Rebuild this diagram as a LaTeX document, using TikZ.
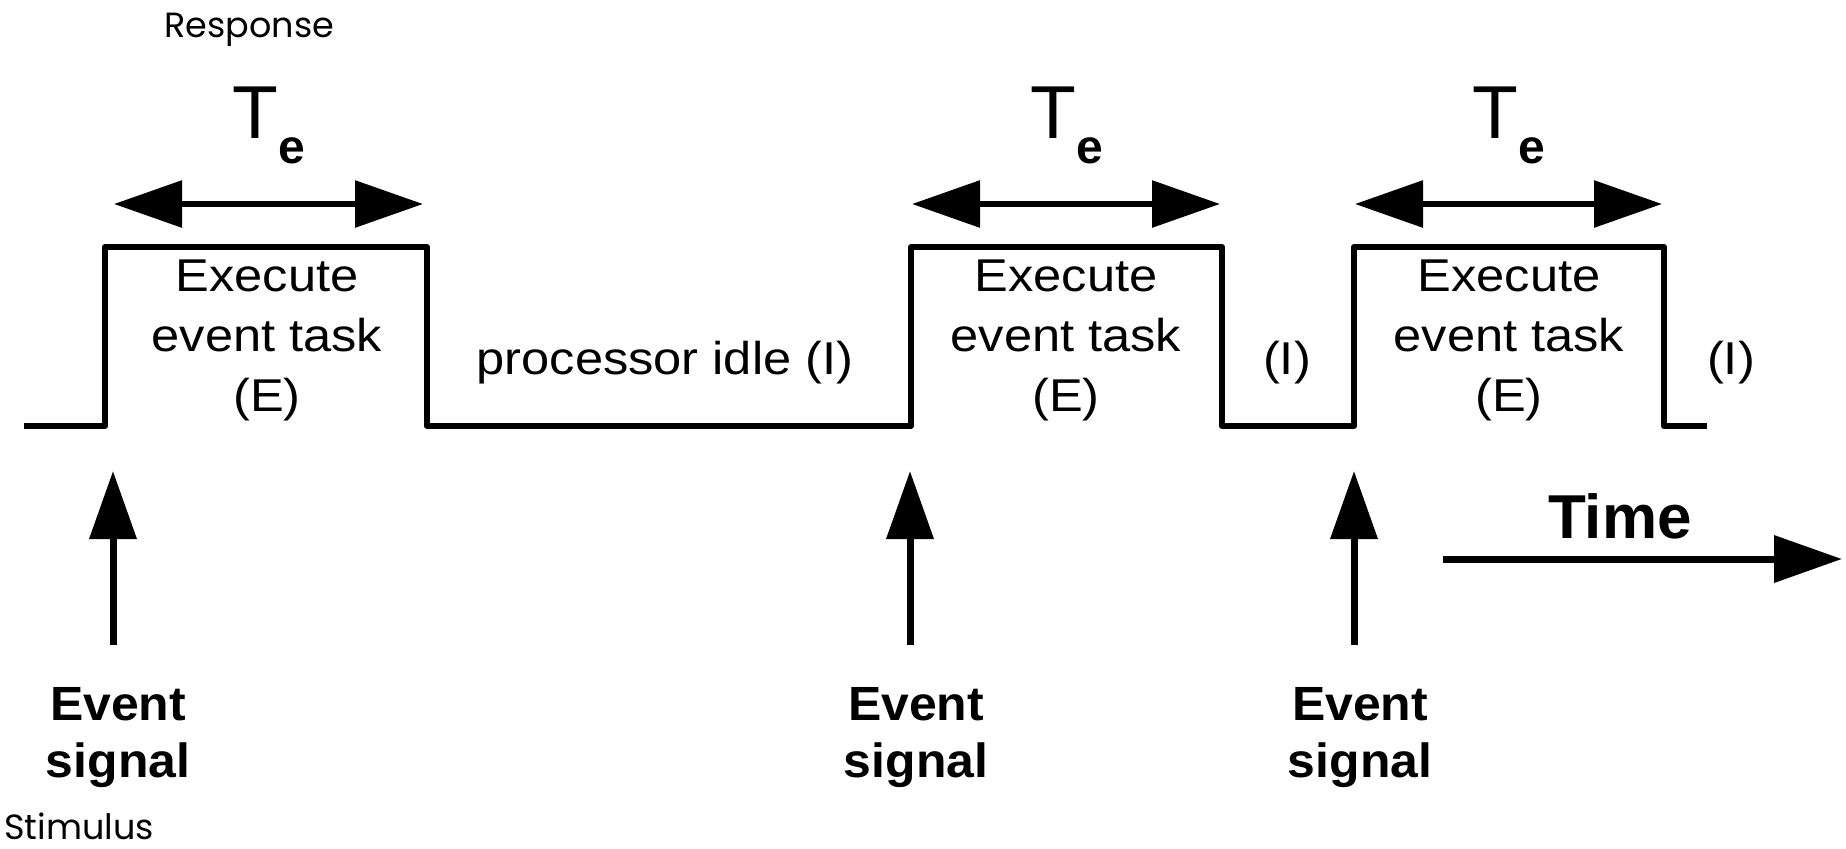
\documentclass[tikz,border=0pt]{standalone}
\usepackage{fontspec}
\setmainfont{Liberation Sans}
\newfontfamily\widesans[FakeStretch=1.1]{Liberation Sans}
\newfontfamily\boldsans[FakeStretch=1.04]{Liberation Sans}
\newfontfamily\geofont{Poppins}
\usetikzlibrary{arrows.meta}

% one unit = one pixel of a 1846 x 848 canvas, y pointing down
\tikzset{
  wave/.style={line width=3pt, line join=round},
  durarrow/.style={line width=3pt,
    {Triangle[length=34pt,width=23pt]}-{Triangle[length=34pt,width=23pt]}},
  sigarrow/.style={line width=3.5pt, -{Triangle[length=34pt,width=23pt]}},
  tasktext/.style={align=center, inner sep=0pt, font=\widesans\fontsize{23}{30}\selectfont},
  idletext/.style={inner sep=0pt, anchor=base, font=\widesans\fontsize{23}{30}\selectfont},
  evtext/.style={align=center, inner sep=0pt, font=\boldsans\fontsize{24}{28.5}\selectfont\bfseries},
  sidenote/.style={inner sep=0pt, anchor=base west, font=\geofont\fontsize{17.5}{21}\selectfont},
  tetext/.style={inner sep=0pt, anchor=base west, font=\fontsize{37.5}{42}\selectfont},
}
\newcommand{\Tsub}{T\raisebox{-12.5pt}{\fontsize{24}{24}\selectfont\bfseries e}}

\begin{document}
\begin{tikzpicture}[x=0.5pt, y=-0.5pt]
\useasboundingbox (0,0) rectangle (1846,848);

% processor activity over time
\draw[wave] (24,426) -- (105,426) -- (105,247) -- (427,247) -- (427,426)
  -- (911,426) -- (911,247) -- (1222,247) -- (1222,426)
  -- (1354,426) -- (1354,247) -- (1664,247) -- (1664,426) -- (1707,426);

% execution time spans
\coordinate (d1l) at (114,204);  \coordinate (d1r) at (423,204);
\coordinate (d2l) at (912,204);  \coordinate (d2r) at (1220,204);
\coordinate (d3l) at (1355,204); \coordinate (d3r) at (1662,204);
\draw[durarrow] (d1l) -- (d1r);
\draw[durarrow] (d2l) -- (d2r);
\draw[durarrow] (d3l) -- (d3r);

\node[tetext] (te1) at (232,138) {\Tsub};
\node[tetext] (te2) at (1030,138) {\Tsub};
\node[tetext] (te3) at (1472,138) {\Tsub};

% task and idle labels
\node[tasktext] (ex1) at (267,340) {Execute\\event task\\(E)};
\node[tasktext] (ex2) at (1066,340) {Execute\\event task\\(E)};
\node[tasktext] (ex3) at (1509,340) {Execute\\event task\\(E)};
\node[idletext] (idle) at (665,374) {processor idle (I)};
\node[idletext] (i2) at (1287,374) {(I)};
\node[idletext] (i3) at (1731,374) {(I)};

% event signals
\node[evtext] (ev1) at (118,738) {Event\\signal};
\node[evtext] (ev2) at (916,738) {Event\\signal};
\node[evtext] (ev3) at (1360,738) {Event\\signal};
\coordinate (s1b) at (113,645);  \coordinate (s1t) at (113,471);
\coordinate (s2b) at (910,645);  \coordinate (s2t) at (910,471);
\coordinate (s3b) at (1354,645); \coordinate (s3t) at (1354,471);
\draw[sigarrow] (s1b) -- (s1t);
\draw[sigarrow] (s2b) -- (s2t);
\draw[sigarrow] (s3b) -- (s3t);

% time axis
\node[inner sep=0pt, anchor=base, font=\fontsize{31}{36}\selectfont\bfseries] (time) at (1620,538) {Time};
\coordinate (ta) at (1443,559); \coordinate (tb) at (1842,559);
\draw[sigarrow] (ta) -- (tb);

% side notes
\node[sidenote] (resp) at (164,37) {Response};
\node[sidenote] (stim) at (4,839) {Stimulus};
\end{tikzpicture}
\end{document}
